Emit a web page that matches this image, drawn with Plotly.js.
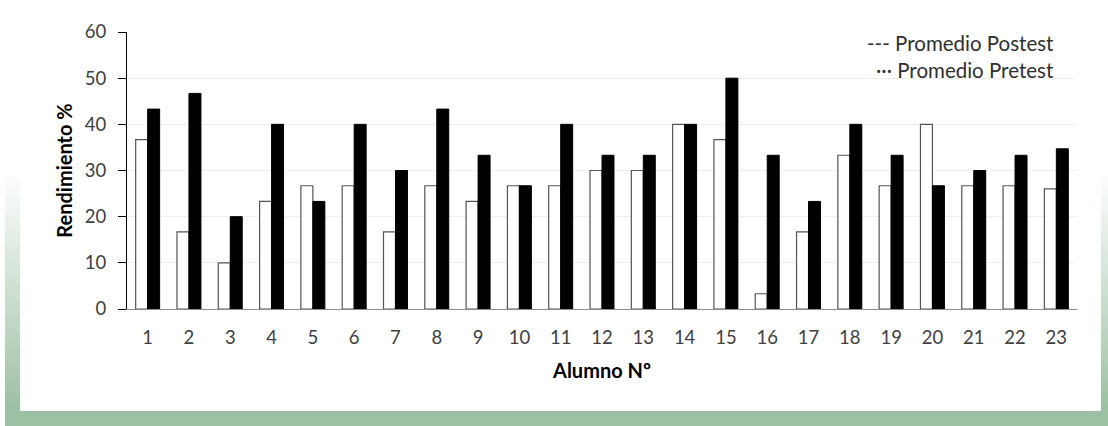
<!DOCTYPE html>
<html>
<head>
<meta charset="utf-8">
<script src="https://cdn.plot.ly/plotly-3.0.1.min.js"></script>
<style>
  html, body { margin: 0; padding: 0; background: #ffffff; }
  #frame { position: relative; width: 1108px; height: 426px; overflow: hidden; background: #ffffff; }
  #grad { position: absolute; left: 5px; top: 15px; width: 1103px; height: 411px;
          background: linear-gradient(to bottom, #ffffff 0%, #ffffff 38%, #9cc0a3 96%, #9cc0a3 100%); }
  #inner { position: absolute; left: 20px; top: 15px; width: 1081px; height: 396px; background: #ffffff; }
  #chart { position: absolute; left: 0; top: 0; width: 1108px; height: 426px; }
</style>
</head>
<body>
<div id="frame">
  <div id="grad"></div>
  <div id="inner"></div>
  <div id="chart"></div>
</div>
<script>
const alumnos = ['1','2','3','4','5','6','7','8','9','10','11','12','13','14','15','16','17','18','19','20','21','22','23'];
const pretest  = [36.7, 16.7, 10, 23.3, 26.7, 26.7, 16.7, 26.7, 23.3, 26.7, 26.7, 30, 30, 40, 36.7, 3.3, 16.7, 33.3, 26.7, 40, 26.7, 26.7, 26];
const postest  = [43.3, 46.7, 20, 40, 23.3, 40, 30, 43.3, 33.3, 26.7, 40, 33.3, 33.3, 40, 50, 33.3, 23.3, 40, 33.3, 26.7, 30, 33.3, 34.7];
const legendTexts = ['--- Promedio Postest', '\u00b7\u00b7\u00b7 Promedio Pretest'];

const FONT = 'Lato, "Open Sans", "Liberation Sans", sans-serif';

const traces = [
  {
    type: 'bar', name: 'Pretest', x: alumnos, y: pretest,
    marker: { color: '#ffffff', line: { color: '#555555', width: 1.2 } },
    showlegend: false, hoverinfo: 'x+y'
  },
  {
    type: 'bar', name: 'Postest', x: alumnos, y: postest,
    marker: { color: '#000000', line: { color: '#000000', width: 1 } },
    showlegend: false, hoverinfo: 'x+y'
  }
];

const layout = {
  width: 1108, height: 426,
  margin: { l: 127, r: 31, t: 32, b: 117 },
  paper_bgcolor: 'rgba(0,0,0,0)',
  plot_bgcolor: 'rgba(0,0,0,0)',
  barmode: 'group',
  bargap: 0.42,
  bargroupgap: 0,
  font: { family: FONT, size: 18.5, color: '#404040' },
  xaxis: {
    type: 'category',
    showline: true, linecolor: '#8c8c8c', linewidth: 1,
    ticks: '', showgrid: false, zeroline: false,
    tickfont: { family: FONT, size: 18.5, color: '#404040' },
    ticklabelstandoff: 12,
    title: { text: 'Alumno Nº', font: { family: FONT, size: 20, color: '#000000', weight: 'bold' }, standoff: 16 }
  },
  yaxis: {
    range: [0, 60], dtick: 10, tick0: 0,
    showline: true, linecolor: '#000000', linewidth: 1,
    ticks: 'outside', ticklen: 8, tickcolor: '#000000', tickwidth: 1,
    showgrid: true, gridcolor: '#efefef', gridwidth: 1,
    zeroline: false,
    tickfont: { family: FONT, size: 18.5, color: '#404040' },
    ticklabelstandoff: 8,
    title: { text: 'Rendimiento %', font: { family: FONT, size: 20, color: '#000000', weight: 'bold' }, standoff: 6 }
  },
  annotations: [
    { xref: 'paper', yref: 'paper', x: 0.978, y: 0.96, xanchor: 'right', yanchor: 'middle',
      text: legendTexts[0], showarrow: false, font: { family: FONT, size: 20.5, color: '#303030' } },
    { xref: 'paper', yref: 'paper', x: 0.978, y: 0.863, xanchor: 'right', yanchor: 'middle',
      text: legendTexts[1], showarrow: false, font: { family: FONT, size: 20.5, color: '#303030' } }
  ]
};

Plotly.newPlot('chart', traces, layout, { displayModeBar: false, staticPlot: true });
</script>
</body>
</html>
